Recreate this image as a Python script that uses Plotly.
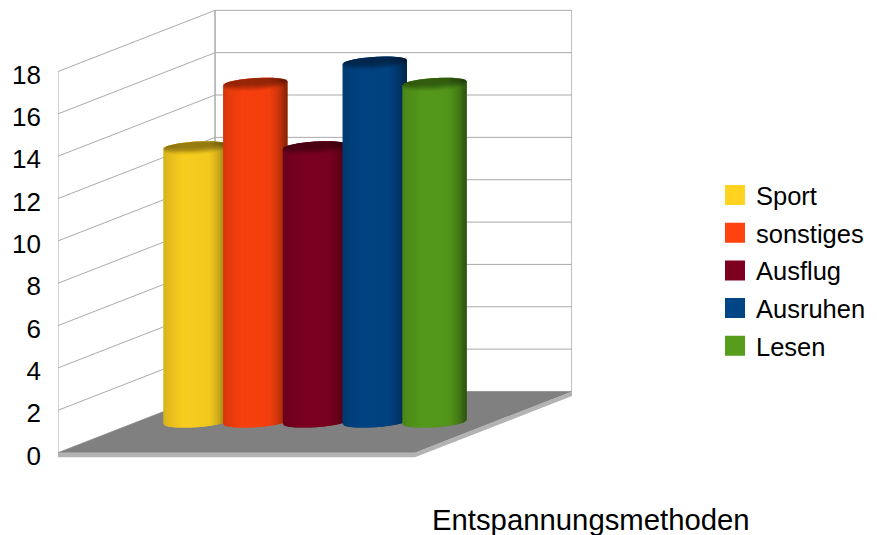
import numpy as np
import plotly.graph_objects as go

# Chart data
series_names = ["Sport", "sonstiges", "Ausflug", "Ausruhen", "Lesen"]
series_values = [13, 16, 13, 17, 16]
series_colors = ["#ffd320", "#ff420e", "#7e0021", "#004586", "#579d1c"]
y_ticks = [0, 2, 4, 6, 8, 10, 12, 14, 16, 18]
axis_title = "Entspannungsmethoden"

# Oblique box: the depth axis shifts a point right and upward
DEPTH_X = 0.44      # category widths per full depth
DEPTH_Y = 2.89      # value units per full depth
UNIT_PX = 21.17     # pixels per value unit
WIDTH_PX = 357.0    # pixels per category width
Y_MIN, Y_MAX = -0.3, 21.0
X_MAX = 1 + DEPTH_X

MARGIN_L = 58
MARGIN_T = 8
PLOT_H = (Y_MAX - Y_MIN) * UNIT_PX
MARGIN_B = 535 - MARGIN_T - PLOT_H
PLOT_W = X_MAX * WIDTH_PX
MARGIN_R = 877 - MARGIN_L - PLOT_W


def project(x, v, depth):
    return x + depth * DEPTH_X, v + depth * DEPTH_Y


def shade(color, factor):
    r, g, b = (int(color[i:i + 2], 16) for i in (1, 3, 5))
    return f"rgb({r * factor:.0f},{g * factor:.0f},{b * factor:.0f})"


fig = go.Figure()


def polygon(xs, ys, fill):
    fig.add_trace(go.Scatter(
        x=xs, y=ys, mode="lines", fill="toself", fillcolor=fill,
        line=dict(color=fill, width=0), showlegend=False,
        hoverinfo="skip", cliponaxis=False))


def polyline(points, color="#aaaaaa", width=1):
    fig.add_trace(go.Scatter(
        x=[p[0] for p in points], y=[p[1] for p in points], mode="lines",
        line=dict(color=color, width=width), showlegend=False,
        hoverinfo="skip", cliponaxis=False))


# Gridlines on the side wall and back wall
for tick in y_ticks:
    polyline([project(0, tick, 0), project(0, tick, 1), project(1, tick, 1)])
polyline([project(0, 0, 0), project(0, y_ticks[-1], 0)])
polyline([project(0, 0, 1), project(0, y_ticks[-1], 1)], width=1.5)
polyline([project(1, 0, 1), project(1, y_ticks[-1], 1)], width=1.5)

# Floor slab: a lighter front edge under the darker top
STRIP = 0.22
corners = [project(0, 0, 0), project(1, 0, 0), project(1, 0, 1), project(0, 0, 1)]
polygon([corners[0][0], corners[1][0], corners[2][0], corners[2][0], corners[1][0], corners[0][0]],
        [corners[0][1], corners[1][1], corners[2][1], corners[2][1] - STRIP, corners[1][1] - STRIP, corners[0][1] - STRIP],
        "#b3b3b3")
polygon([c[0] for c in corners], [c[1] for c in corners], "#808080")

# Cylinders, painted left to right so each one overlaps its left neighbour
SPACING = 59.75 / WIDTH_PX
RADIUS = 32.2 / WIDTH_PX
ELLIPSE_A = 5.2 / UNIT_PX   # vertical half height of the end discs
ELLIPSE_B = 2.0 / UNIT_PX   # tilt of the end discs, right side higher
STRIPS = 36
SHADE_U = [0.0, 0.08, 0.3, 0.72, 0.86, 1.0]
SHADE_F = [0.84, 0.89, 0.97, 0.95, 0.80, 0.52]
mid_x, mid_v = project(0.5, 0, 0.5)


def disc_y(center, u, front):
    # u runs 0..1 across the cylinder; front selects the nearer arc
    c = 2 * u - 1
    s = np.sqrt(max(1 - c * c, 0))
    return center + ELLIPSE_B * c + (-ELLIPSE_A * s if front else ELLIPSE_A * s)


for i, (value, color) in enumerate(zip(series_values, series_colors)):
    cx = mid_x + (i - (len(series_values) - 1) / 2) * SPACING
    top = mid_v + value
    edges = np.linspace(0, 1, STRIPS + 1)
    for k in range(STRIPS):
        # Each band also covers the next one's width, so no seams show between them
        u0, u_mid, u1 = edges[k], edges[k + 1], edges[min(k + 2, STRIPS)]
        f = float(np.interp((u0 + u_mid) / 2, SHADE_U, SHADE_F))
        span = [u0, u_mid, u1]
        xs = [cx - RADIUS + 2 * RADIUS * u for u in span]
        polygon(xs + xs[::-1],
                [disc_y(mid_v, u, True) for u in span] + [disc_y(top, u, False) for u in span[::-1]],
                shade(color, f))
    # Darkened top face that fades softly into the side of the cylinder
    arc = np.linspace(0, 1, 41)
    for drop, alpha in zip([2.5, 1.2, 0.0, -1.2, -2.5, -4.0], [0.05, 0.07, 0.09, 0.09, 0.08, 0.07]):
        xs = list(cx - RADIUS + 2 * RADIUS * arc) + list(cx - RADIUS + 2 * RADIUS * arc[::-1])
        ys = ([disc_y(top, u, False) for u in arc] +
              [disc_y(top, u, True) - drop / UNIT_PX for u in arc[::-1]])
        polygon(xs, ys, f"rgba(0,0,0,{alpha})")

# Legend entries
for name, color in zip(series_names, series_colors):
    fig.add_trace(go.Scatter(
        x=[None], y=[None], mode="markers", name=name, legendgroup=name,
        marker=dict(symbol="square", size=16, color=color,
                    line=dict(color=color, width=4))))

FONT = "Liberation Sans, Arial, sans-serif"
fig.update_layout(
    width=877, height=535, autosize=False,
    margin=dict(l=MARGIN_L, r=MARGIN_R, t=MARGIN_T, b=MARGIN_B, pad=0),
    paper_bgcolor="white", plot_bgcolor="white",
    font=dict(family=FONT, size=26, color="#000000"),
    xaxis=dict(range=[0, X_MAX], visible=False, fixedrange=True),
    yaxis=dict(range=[Y_MIN, Y_MAX], tickmode="array", tickvals=y_ticks,
               ticktext=[str(t) for t in y_ticks], showgrid=False, zeroline=False,
               showline=False, ticks="", ticklabelstandoff=16, ticklabelshift=3,
               fixedrange=True),
    legend=dict(xref="container", yref="container",
                x=714 / 877, xanchor="left",
                y=1 - 172 / 535, yanchor="top",
                font=dict(size=25.5), itemwidth=32, tracegroupgap=1.5,
                bgcolor="rgba(0,0,0,0)", traceorder="grouped"),
    annotations=[dict(text=axis_title, xref="paper", yref="paper",
                      x=(591 - MARGIN_L) / PLOT_W, xanchor="center",
                      y=(535 - MARGIN_B - 519) / PLOT_H, yanchor="middle",
                      showarrow=False, font=dict(size=29.3))],
)

fig.write_html("out.html", config={"displayModeBar": False})
